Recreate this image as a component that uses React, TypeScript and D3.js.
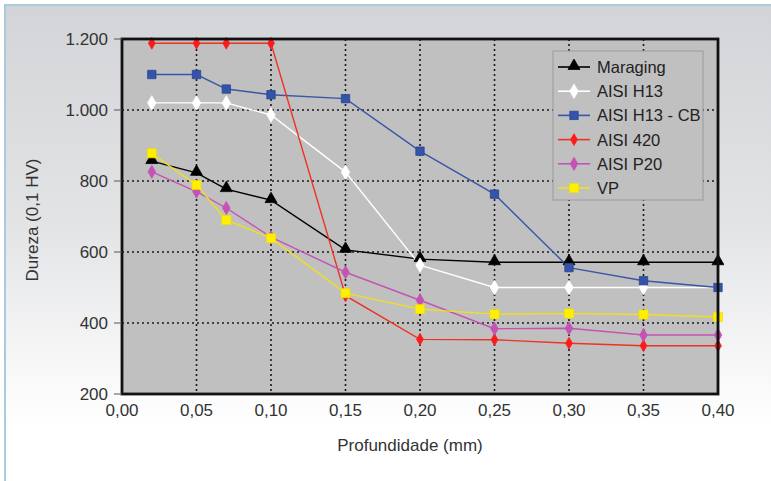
import React from "react";
import * as d3 from "d3";

const depths = [0.02, 0.05, 0.07, 0.10, 0.15, 0.20, 0.25, 0.30, 0.35, 0.40];
const maraging = [856, 823, 777, 746, 606, 580, 571, 571, 571, 571];
const aisiH13 = [1020, 1020, 1020, 986, 825, 563, 500, 500, 500, 500];
const aisiH13CB = [1100, 1100, 1059, 1043, 1032, 884, 763, 556, 519, 500];
const aisi420 = [1188, 1188, 1188, 1188, 477, 354, 353, 343, 336, 336];
const aisiP20 = [826, 770, 724, 642, 543, 464, 384, 385, 366, 366];
const vp = [878, 789, 690, 639, 484, 439, 425, 427, 424, 417];

const xTicks = [0, 0.05, 0.1, 0.15, 0.2, 0.25, 0.3, 0.35, 0.4];
const yTicks = [200, 400, 600, 800, 1000, 1200];
const xLabels = ["0,00", "0,05", "0,10", "0,15", "0,20", "0,25", "0,30", "0,35", "0,40"];
const yLabels = ["200", "400", "600", "800", "1.000", "1.200"];

type Series = { name: string; values: number[]; line: string; fill: string; stroke: string; shape: "triangle" | "diamond" | "square"; size: number };

const series: Series[] = [
  { name: "Maraging", values: maraging, line: "#000000", fill: "#000000", stroke: "#000000", shape: "triangle", size: 62 },
  { name: "AISI H13", values: aisiH13, line: "#ffffff", fill: "#ffffff", stroke: "#ffffff", shape: "diamond", size: 60 },
  { name: "AISI H13 - CB", values: aisiH13CB, line: "#3a56a8", fill: "#3553a8", stroke: "#2a4590", shape: "square", size: 70 },
  { name: "AISI 420", values: aisi420, line: "#ee3322", fill: "#ff1a1a", stroke: "#ff1a1a", shape: "diamond", size: 40 },
  { name: "AISI P20", values: aisiP20, line: "#c454b4", fill: "#c454b4", stroke: "#c454b4", shape: "diamond", size: 50 },
  { name: "VP", values: vp, line: "#f0e020", fill: "#fff000", stroke: "#f2e000", shape: "square", size: 80 },
];

const FONT = "'Liberation Sans', Arial, sans-serif";

export default function App() {
  const W = 771, H = 481;
  const left = 122, right = 718, top = 39, bottom = 394;
  const x = d3.scaleLinear().domain([0, 0.4]).range([left, right]);
  const y = d3.scaleLinear().domain([200, 1200]).range([bottom, top]);
  const line = d3.line<number>().x((_, i) => x(depths[i])).y((v) => y(v));

  const symbolPath = (s: Series) => {
    const type = s.shape === "triangle" ? d3.symbolTriangle : s.shape === "diamond" ? d3.symbolDiamond : d3.symbolSquare;
    return d3.symbol().type(type).size(s.size)() as string;
  };

  const legX = 553, legY = 51, legW = 150, legH = 149;
  const legRow = 24.2;

  return (
    <svg width={W} height={H} style={{ position: "absolute", left: 0, top: 0 }} fontFamily={FONT}>
      <defs>
        <linearGradient id="bg" x1="0" y1="0" x2="0" y2="1">
          <stop offset="0" stopColor="#d3d4d7" />
          <stop offset="0.45" stopColor="#e2e3e5" />
          <stop offset="0.88" stopColor="#ffffff" />
          <stop offset="1" stopColor="#ffffff" />
        </linearGradient>
        <clipPath id="plotclip">
          <rect x={left} y={top - 6} width={right - left + 6} height={bottom - top + 6} />
        </clipPath>
      </defs>
      <rect x={0} y={0} width={W} height={H} fill="#ffffff" />
      <rect x={5} y={5} width={W - 5} height={H - 5} fill="url(#bg)" />
      <line x1={4} x2={W} y1={5} y2={5} stroke="#a9ccdc" strokeWidth={2} />
      <line x1={5} x2={5} y1={4} y2={H} stroke="#a9ccdc" strokeWidth={2} />

      {/* plot area */}
      <rect x={left} y={top} width={right - left} height={bottom - top} fill="#c0c0c0" />

      {/* grid */}
      {yTicks.filter((t) => t > 200 && t < 1200).map((t) => (
        <line key={"gy" + t} x1={left} x2={right} y1={y(t)} y2={y(t)} stroke="#1a1a1a" strokeWidth={1.6} strokeDasharray="2,3" />
      ))}
      {xTicks.filter((t) => t > 0 && t < 0.4).map((t) => (
        <line key={"gx" + t} x1={x(t)} x2={x(t)} y1={top} y2={bottom} stroke="#1a1a1a" strokeWidth={1.6} strokeDasharray="2,3" />
      ))}

      {/* series */}
      <g clipPath="url(#plotclip)">
        {series.map((s) => (
          <path key={"l" + s.name} d={line(s.values) as string} fill="none" stroke={s.line} strokeWidth={1.4} />
        ))}
        {series.map((s) => (
          <g key={"m" + s.name}>
            {s.values.map((v, i) => (
              <path key={i} d={symbolPath(s)} transform={`translate(${x(depths[i])},${y(v) - (s.shape === "triangle" ? 1 : 0)})`} fill={s.fill} stroke={s.stroke} strokeWidth={0.8} />
            ))}
          </g>
        ))}
      </g>

      {/* frame */}
      <rect x={left} y={top} width={right - left} height={bottom - top} fill="none" stroke="#111111" strokeWidth={2.8} />

      {/* y axis */}
      {yTicks.map((t, i) => (
        <g key={"yt" + t}>
          <line x1={114} x2={left} y1={y(t)} y2={y(t)} stroke="#555" strokeWidth={1} />
          <text x={108} y={y(t)} dy="0.35em" textAnchor="end" fontSize={17} fill="#333">{yLabels[i]}</text>
        </g>
      ))}
      <text transform={`translate(38,220) rotate(-90)`} textAnchor="middle" fontSize={17} fill="#333">Dureza (0,1 HV)</text>

      {/* x axis */}
      {xTicks.map((t, i) => (
        <text key={"xt" + t} x={x(t)} y={416} textAnchor="middle" fontSize={17} fill="#333">{xLabels[i]}</text>
      ))}
      <text x={(left + right) / 2 - 10} y={451} textAnchor="middle" fontSize={17} fill="#333">Profundidade (mm)</text>

      {/* legend */}
      <rect x={legX} y={legY} width={legW} height={legH} fill="#c0c0c0" stroke="#9a9a9a" strokeWidth={1} />
      {series.map((s, i) => {
        const cy = legY + 16 + i * legRow;
        return (
          <g key={"lg" + s.name}>
            <line x1={558} x2={590} y1={cy} y2={cy} stroke={s.line} strokeWidth={1.6} />
            <path d={symbolPath(s)} transform={`translate(574,${cy - (s.shape === "triangle" ? 1 : 0)})`} fill={s.fill} stroke={s.stroke} strokeWidth={0.8} />
            <text x={597} y={cy} dy="0.36em" fontSize={16.5} fill="#222">{s.name}</text>
          </g>
        );
      })}
    </svg>
  );
}
